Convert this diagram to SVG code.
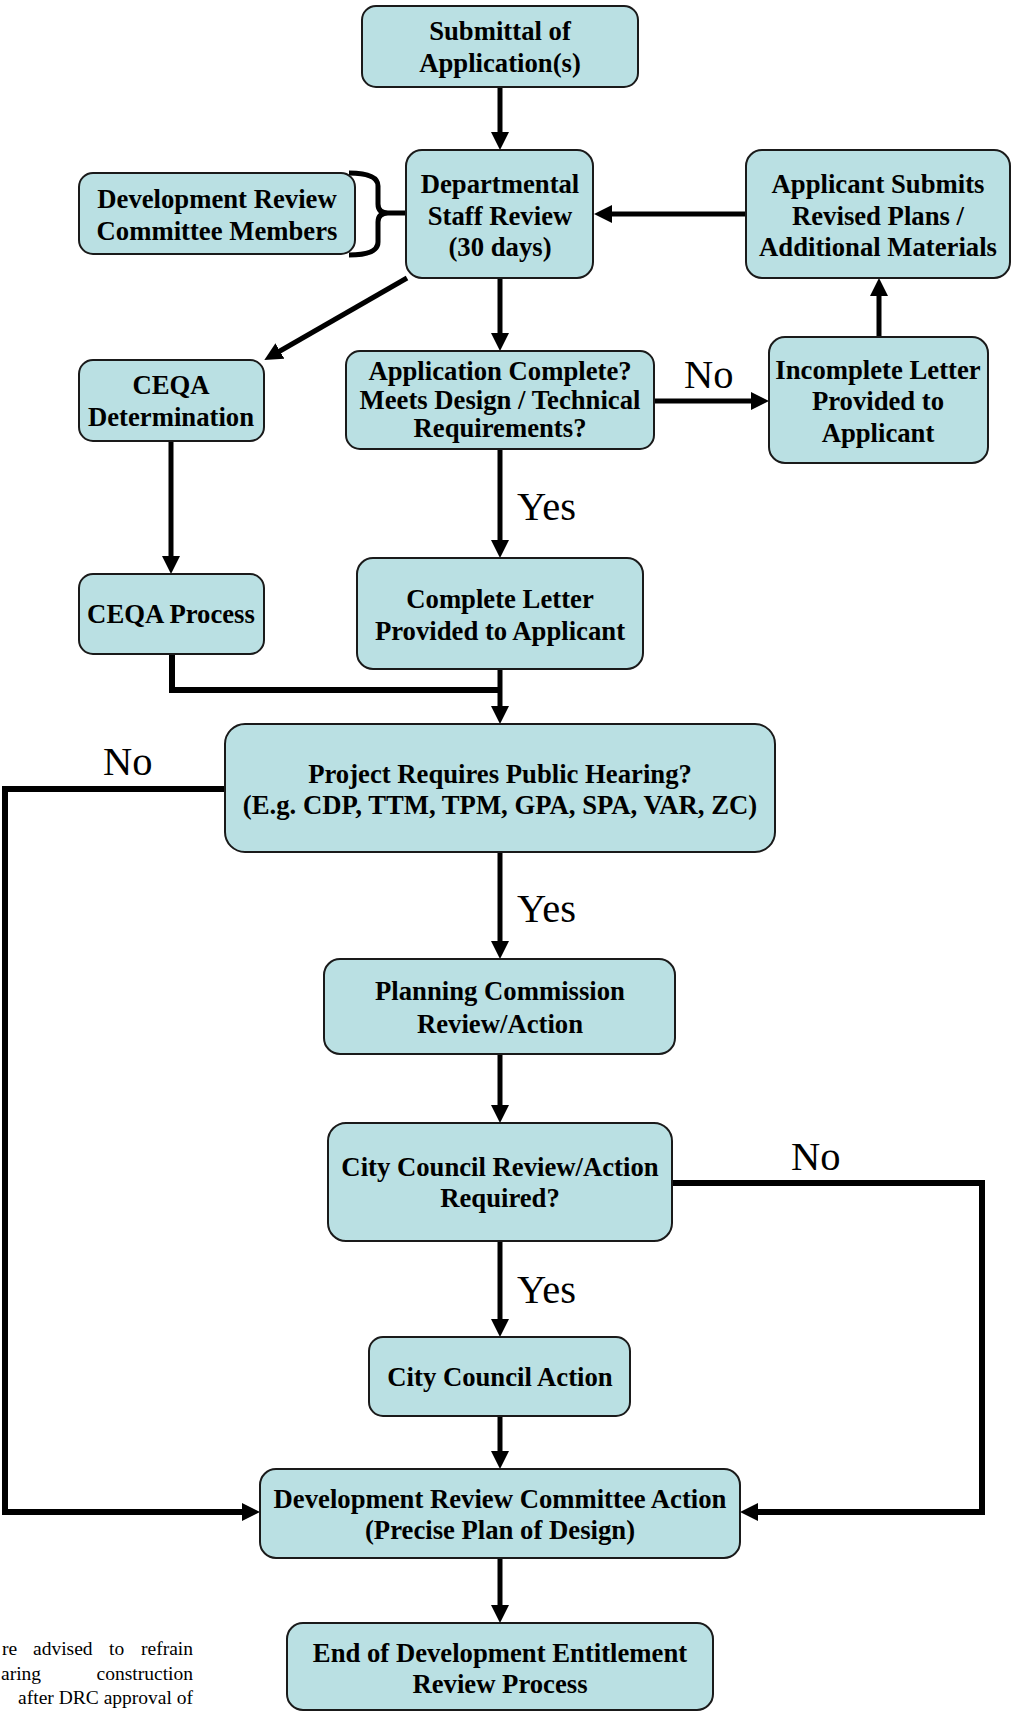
<svg xmlns="http://www.w3.org/2000/svg" width="1013" height="1712" viewBox="0 0 1013 1712">
<style>
.box{fill:#bae0e3;stroke:#1a1a1a;stroke-width:2}
.t{font-family:"Liberation Serif","Times New Roman",serif;font-weight:bold;font-size:26.7px;text-anchor:middle;fill:#000}
.lbl{font-family:"Liberation Serif","Times New Roman",serif;font-size:40.5px;fill:#000}
.foot{font-family:"Liberation Serif","Times New Roman",serif;font-size:19.5px;fill:#000}
.c{fill:none;stroke:#000;stroke-width:5}
.ck{fill:none;stroke:#000;stroke-width:6}
</style>
<defs>
<marker id="ah" markerUnits="userSpaceOnUse" markerWidth="18" markerHeight="18" refX="8" refY="9" orient="auto">
<path d="M0,0 L18,9 L0,18 z" fill="#000"/>
</marker>
</defs>
<rect width="1013" height="1712" fill="#fff"/>
<g id="connectors">
<path class="c" d="M500,87 V140" marker-end="url(#ah)"/>
<path class="c" d="M746,214 H604" marker-end="url(#ah)"/>
<path class="c" d="M349,173 Q378,173 378,186 V204 Q378,213 388,213 H407 M388,213 Q378,213 378,222 V242 Q378,255 349,255" stroke-width="4"/>
<path class="c" d="M407,278 L273,355" marker-end="url(#ah)"/>
<path class="c" d="M500,278 V341" marker-end="url(#ah)"/>
<path class="c" d="M654,401 H759" stroke-width="7" marker-end="url(#ah)"/>
<path class="c" d="M879,337 V288" marker-end="url(#ah)"/>
<path class="c" d="M171,441 V564" marker-end="url(#ah)"/>
<path class="c" d="M500,449 V548" marker-end="url(#ah)"/>
<path class="ck" d="M172,654 V690 H500"/>
<path class="c" d="M500,669 V714" marker-end="url(#ah)"/>
<path class="ck" d="M225,789 H5 V1512 H250" marker-end="url(#ah)"/>
<path class="c" d="M500,852 V949" marker-end="url(#ah)"/>
<path class="c" d="M500,1054 V1113" marker-end="url(#ah)"/>
<path class="ck" d="M672,1183 H982 V1512 H750" marker-end="url(#ah)"/>
<path class="c" d="M500,1241 V1327" marker-end="url(#ah)"/>
<path class="c" d="M500,1416 V1459" marker-end="url(#ah)"/>
<path class="c" d="M500,1558 V1613" marker-end="url(#ah)"/>
</g>
<g id="n-submittal"><rect class="box" x="362" y="6" width="276" height="81" rx="14"/>
<text class="t" x="500" y="40">Submittal of</text><text class="t" x="500" y="72">Application(s)</text></g>
<g id="n-dept"><rect class="box" x="406" y="150" width="187" height="128" rx="16"/>
<text class="t" x="500" y="193">Departmental</text><text class="t" x="500" y="225">Staff Review</text><text class="t" x="500" y="256">(30 days)</text></g>
<g id="n-drcmembers"><rect class="box" x="79" y="173" width="276" height="81" rx="14"/>
<text class="t" x="217" y="208">Development Review</text><text class="t" x="217" y="240">Committee Members</text></g>
<g id="n-applicant"><rect class="box" x="746" y="150" width="264" height="128" rx="16"/>
<text class="t" x="878" y="193">Applicant Submits</text><text class="t" x="878" y="225">Revised Plans /</text><text class="t" x="878" y="256">Additional Materials</text></g>
<g id="n-ceqadet"><rect class="box" x="79" y="360" width="185" height="81" rx="14"/>
<text class="t" x="171" y="394">CEQA</text><text class="t" x="171" y="426">Determination</text></g>
<g id="n-appcomplete"><rect class="box" x="346" y="351" width="308" height="98" rx="14"/>
<text class="t" x="500" y="380">Application Complete?</text><text class="t" x="500" y="409">Meets Design / Technical</text><text class="t" x="500" y="437">Requirements?</text></g>
<g id="n-incomplete"><rect class="box" x="769" y="337" width="219" height="126" rx="16"/>
<text class="t" x="878" y="379">Incomplete Letter</text><text class="t" x="878" y="410">Provided to</text><text class="t" x="878" y="442">Applicant</text></g>
<g id="n-ceqaproc"><rect class="box" x="79" y="574" width="185" height="80" rx="14"/>
<text class="t" x="171" y="623">CEQA Process</text></g>
<g id="n-completeletter"><rect class="box" x="357" y="558" width="286" height="111" rx="16"/>
<text class="t" x="500" y="608">Complete Letter</text><text class="t" x="500" y="640">Provided to Applicant</text></g>
<g id="n-project"><rect class="box" x="225" y="724" width="550" height="128" rx="20"/>
<text class="t" x="500" y="783">Project Requires Public Hearing?</text><text class="t" x="500" y="814">(E.g. CDP, TTM, TPM, GPA, SPA, VAR, ZC)</text></g>
<g id="n-planning"><rect class="box" x="324" y="959" width="351" height="95" rx="16"/>
<text class="t" x="500" y="1000">Planning Commission</text><text class="t" x="500" y="1033">Review/Action</text></g>
<g id="n-ccreview"><rect class="box" x="328" y="1123" width="344" height="118" rx="18"/>
<text class="t" x="500" y="1176">City Council Review/Action</text><text class="t" x="500" y="1207">Required?</text></g>
<g id="n-ccaction"><rect class="box" x="369" y="1337" width="261" height="79" rx="14"/>
<text class="t" x="500" y="1386">City Council Action</text></g>
<g id="n-drcaction"><rect class="box" x="260" y="1469" width="480" height="89" rx="16"/>
<text class="t" x="500" y="1508">Development Review Committee Action</text><text class="t" x="500" y="1539">(Precise Plan of Design)</text></g>
<g id="n-end"><rect class="box" x="287" y="1623" width="426" height="87" rx="16"/>
<text class="t" x="500" y="1662">End of Development Entitlement</text><text class="t" x="500" y="1693">Review Process</text></g>
<g id="labels">
<text class="lbl" x="684" y="388">No</text>
<text class="lbl" x="517" y="520">Yes</text>
<text class="lbl" x="103" y="775">No</text>
<text class="lbl" x="517" y="922">Yes</text>
<text class="lbl" x="791" y="1170">No</text>
<text class="lbl" x="517" y="1303">Yes</text>
</g>
<g id="footnote">
<text class="foot" y="1655"><tspan x="2">re</tspan><tspan x="33">advised</tspan><tspan x="109">to</tspan><tspan x="193" text-anchor="end">refrain</tspan></text>
<text class="foot" y="1680"><tspan x="1">aring</tspan><tspan x="193" text-anchor="end">construction</tspan></text>
<text class="foot" x="193" y="1704" text-anchor="end">after DRC approval of</text>
</g>
</svg>
